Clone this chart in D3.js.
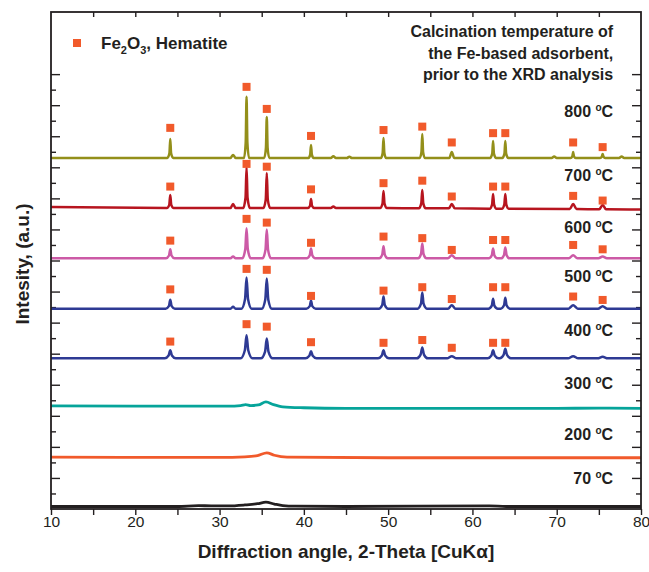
<!DOCTYPE html>
<html>
<head>
<meta charset="utf-8">
<script src="https://cdn.jsdelivr.net/npm/d3@7"></script>
<style>
  body { margin: 0; background: #fff; }
  text { font-family: "Liberation Sans", Arial, sans-serif; fill: #231f20; }
</style>
</head>
<body>
<svg width="649" height="572"></svg>
<script>
// Temperatures (series names), bottom to top
var temps = ["70", "200", "300", "400", "500", "600", "700", "800"];
// vertical offset of each pattern (a.u.)
var offsets = [8, 166, 328, 485, 645, 807, 969, 1130];
var colors = ["#231f20", "#f15a2b", "#06a49a", "#2e3a94", "#2e3a94", "#cc5aa6", "#b7151f", "#938f1a"];

// XRD patterns: [2-theta, intensity above the offset]
var p70 = [[10,0],[25,0],[27.5,3],[29,2],[31,2],[33,5],[34.5,9],[35.5,14],[36.5,8],[37.5,3],[39,1],[45,0],[62,2],[64,0],[80,0]];
var p200 = [[10,1],[30,0],[33,2],[34.5,6],[35.6,15],[36.5,7],[38,1],[50,-1],[80,-1]];
var p300 = [[10,4],[20,3],[27,3],[31,3],[32.5,5],[33.1,8],[33.7,5],[34.6,7],[35.5,17],[36.4,8],[37.5,1],[40,-2],[45,-4],[55,-4],[65,-4],[70,-4],[75,-3],[80,-4]];
var p400 = [[10,0],
  [23.5,0],[23.95,9],[24.15,26],[24.35,9],[24.8,0],
  [32.5,0],[33.0,26],[33.2,74],[33.4,26],[33.9,0],
  [34.9,0],[35.4,22],[35.6,64],[35.8,22],[36.3,0],
  [40.2,0],[40.65,8],[40.85,23],[41.05,8],[41.5,0],
  [48.8,0],[49.25,9],[49.45,26],[49.65,9],[50.1,0],
  [53.4,0],[53.85,12],[54.05,35],[54.25,12],[54.7,0],
  [57.0,0],[57.55,7],[58.1,0],
  [61.8,0],[62.25,9],[62.45,26],[62.65,9],[63.1,0],
  [63.25,0],[63.7,11],[63.9,31],[64.1,11],[64.55,0],
  [71.35,0],[71.95,7],[72.55,0],
  [74.85,0],[75.45,5],[76.05,0],
  [80,0]];
var p500 = [[10,0],
  [23.6,0],[24.0,9],[24.15,29],[24.3,9],[24.7,0],
  [31.3,0],[31.6,6],[31.9,0],
  [32.6,0],[33.02,30],[33.2,100],[33.38,30],[33.8,0],
  [35.0,0],[35.42,29],[35.6,97],[35.78,29],[36.2,0],
  [40.3,0],[40.7,8],[40.85,26],[41.0,8],[41.4,0],
  [48.9,0],[49.3,12],[49.45,39],[49.6,12],[50.0,0],
  [53.5,0],[53.9,16],[54.05,52],[54.2,16],[54.6,0],
  [57.1,0],[57.55,11],[58.0,0],
  [61.9,0],[62.3,10],[62.45,32],[62.6,10],[63.0,0],
  [63.35,0],[63.75,11],[63.9,35],[64.05,11],[64.45,0],
  [71.4,0],[71.95,11],[72.5,0],
  [74.9,0],[75.45,8],[76.0,0],
  [80,0]];
var p600 = [[10,0],
  [23.65,0],[24.0,9],[24.15,29],[24.3,9],[24.65,0],
  [31.3,0],[31.6,6],[31.9,0],
  [32.7,0],[33.05,29],[33.2,97],[33.35,29],[33.7,0],
  [35.1,0],[35.45,28],[35.6,93],[35.75,28],[36.1,0],
  [40.35,0],[40.7,10],[40.85,32],[41.0,10],[41.35,0],
  [48.95,0],[49.3,12],[49.45,39],[49.6,12],[49.95,0],
  [53.55,0],[53.9,14],[54.05,48],[54.2,14],[54.55,0],
  [57.1,0],[57.55,10],[58.0,0],
  [61.95,0],[62.3,10],[62.45,32],[62.6,10],[62.95,0],
  [63.4,0],[63.75,11],[63.9,35],[64.05,11],[64.4,0],
  [71.45,0],[71.95,10],[72.45,0],
  [74.95,0],[75.45,6],[75.95,0],
  [80,0]];
var p700 = [[10,3],
  [23.75,0],[24.03,10],[24.15,42],[24.27,10],[24.55,0],
  [31.3,0],[31.6,13],[31.9,0],
  [32.8,0],[33.08,33],[33.2,130],[33.32,33],[33.6,0],
  [35.2,0],[35.48,28],[35.6,113],[35.72,28],[36.0,0],
  [40.45,0],[40.73,7],[40.85,29],[40.97,7],[41.25,0],
  [43.2,0],[43.5,5],[43.8,0],
  [49.05,0],[49.33,14],[49.45,55],[49.57,14],[49.85,0],
  [53.65,-1],[53.93,15],[54.05,58],[54.17,15],[54.45,-1],
  [57.2,-1],[57.55,13],[57.9,-1],
  [62.05,-2],[62.33,11],[62.45,45],[62.57,11],[62.85,-2],
  [63.5,-2],[63.78,11],[63.9,45],[64.02,11],[64.3,-2],
  [71.55,-3],[71.95,13],[72.35,-3],
  [75.05,-4],[75.45,10],[75.85,-4],
  [80,-5]];
var p800 = [[10,0],
  [23.8,0],[24.05,15],[24.15,61],[24.25,15],[24.5,0],
  [31.3,0],[31.6,10],[31.9,0],
  [32.9,0],[33.1,50],[33.2,197],[33.3,50],[33.5,0],
  [35.3,0],[35.5,33],[35.6,132],[35.7,33],[35.9,0],
  [40.55,0],[40.75,11],[40.85,42],[40.95,11],[41.15,0],
  [43.2,0],[43.5,6],[43.8,0],
  [45.1,0],[45.4,4],[45.7,0],
  [49.15,0],[49.35,16],[49.45,64],[49.55,16],[49.75,0],
  [53.75,0],[53.95,19],[54.05,77],[54.15,19],[54.35,0],
  [57.25,0],[57.55,19],[57.85,0],
  [62.1,0],[62.35,14],[62.45,55],[62.55,14],[62.8,0],
  [63.55,0],[63.8,14],[63.9,55],[64.0,14],[64.25,0],
  [69.4,0],[69.7,5],[70.0,0],
  [71.65,0],[71.85,5],[71.95,19],[72.05,5],[72.25,0],
  [75.15,0],[75.35,4],[75.45,13],[75.55,4],[75.75,0],
  [77.4,0],[77.7,5],[78.0,0],
  [80,0]];
var patterns = [p70, p200, p300, p400, p500, p600, p700, p800];

// Hematite reflections (2-theta) and marker heights (a.u.) per series
var hemPos = [24.15, 33.2, 35.6, 40.85, 49.45, 54.05, 57.55, 62.45, 63.9, 71.95, 75.45];
var mk400 = [539, 595, 587, 537, 535, 544, 519, 535, 535];
var mk500 = [707, 773, 770, 686, 703, 714, 676, 714, 714, 684, 673];
var mk600 = [864, 934, 922, 857, 877, 872, 834, 866, 866, 850, 836];
var mk700 = [1038, 1111, 1102, 1029, 1049, 1057, 1006, 1038, 1038, 1008, 993];
var mk800 = [1227, 1359, 1288, 1201, 1220, 1231, 1180, 1210, 1210, 1180, 1165];
var markerRows = [mk400, mk500, mk600, mk700, mk800];

// Temperature label baselines (a.u.)
var labelY = [80, 222, 385, 557, 732, 890, 1057, 1262];

var xTicks = [10, 20, 30, 40, 50, 60, 70, 80];

var margin = {top: 12, right: 8, bottom: 63, left: 51};
var width = 649 - margin.left - margin.right;
var height = 572 - margin.top - margin.bottom;

var svg = d3.select("svg");
var g = svg.append("g").attr("transform", "translate(" + margin.left + "," + margin.top + ")");

var x = d3.scaleLinear().domain([10, 80]).range([0, width]);
var y = d3.scaleLinear().domain([0, 1600]).range([height, 0]);

var fiveDeg = d3.range(10, 80.1, 5);
var halfTicks = d3.range(50, 1401, 50);
var minorY = halfTicks.filter(v => v % 100 !== 0);
var majorY = halfTicks.filter(v => v % 100 === 0);

function styleAxis(sel) {
    sel.selectAll(".domain").remove();
    sel.selectAll("line").attr("stroke", "#231f20").attr("stroke-width", 1.4);
}

// bottom axis, ticks outward
g.append("g")
    .attr("transform", "translate(0," + height + ")")
    .call(d3.axisBottom(x).tickValues(fiveDeg).tickSize(6).tickSizeOuter(0)
        .tickFormat(d => xTicks.includes(d) ? d : ""))
    .call(styleAxis)
    .call(s => s.selectAll("text").attr("font-size", 15.5).attr("dy", "0.75em").attr("y", 6));

// top axis, ticks inward
g.append("g")
    .call(d3.axisTop(x).tickValues(fiveDeg.slice(1, -1)).tickSize(-5).tickFormat(""))
    .call(styleAxis);

// left and right axes, ticks inward
g.append("g").call(d3.axisLeft(y).tickValues(majorY).tickSize(-9).tickFormat("")).call(styleAxis);
g.append("g").call(d3.axisLeft(y).tickValues(minorY).tickSize(-5).tickFormat("")).call(styleAxis);
g.append("g").attr("transform", "translate(" + width + ",0)")
    .call(d3.axisRight(y).tickValues(majorY).tickSize(-9).tickFormat("")).call(styleAxis);
g.append("g").attr("transform", "translate(" + width + ",0)")
    .call(d3.axisRight(y).tickValues(minorY).tickSize(-5).tickFormat("")).call(styleAxis);

// XRD lines
var line = d3.line().curve(d3.curveMonotoneX);
patterns.forEach(function(pts, i) {
    g.append("path")
        .datum(pts)
        .attr("fill", "none")
        .attr("stroke", colors[i])
        .attr("stroke-width", i < 3 ? 2.8 : 2.5)
        .attr("stroke-linejoin", "round")
        .attr("d", line.x(d => x(d[0])).y(d => y(d[1] + offsets[i])));
});

// hematite markers
markerRows.forEach(function(row) {
    g.selectAll(null)
        .data(row)
        .enter().append("rect")
        .attr("x", (d, j) => x(hemPos[j]) - 4)
        .attr("y", d => y(d) - 4)
        .attr("width", 8)
        .attr("height", 8)
        .attr("fill", "#f15a2b");
});

// frame
g.append("rect")
    .attr("width", width).attr("height", height)
    .attr("fill", "none").attr("stroke", "#231f20").attr("stroke-width", 1.8);

// temperature labels
temps.forEach(function(t, i) {
    var txt = g.append("text")
        .attr("x", x(76.7))
        .attr("y", y(labelY[i]))
        .attr("text-anchor", "end")
        .attr("font-size", 16)
        .attr("font-weight", "bold");
    txt.append("tspan").text(t + " ");
    txt.append("tspan").attr("font-size", 10).attr("dy", -6).text("o");
    txt.append("tspan").attr("dy", 6).text("C");
});

// calcination note
var note = ["Calcination temperature of", "the Fe-based adsorbent,", "prior to the XRD analysis"];
note.forEach(function(s, i) {
    g.append("text")
        .attr("x", x(76.7))
        .attr("y", 25 + i * 21.7)
        .attr("text-anchor", "end")
        .attr("font-size", 16)
        .attr("font-weight", "bold")
        .text(s);
});

// legend
g.append("rect").attr("x", 22).attr("y", 27).attr("width", 8).attr("height", 8).attr("fill", "#f15a2b");
var leg = g.append("text").attr("x", 50).attr("y", 36.5).attr("font-size", 17).attr("font-weight", "bold");
leg.append("tspan").text("Fe");
leg.append("tspan").attr("font-size", 11).attr("dy", 5).text("2");
leg.append("tspan").attr("dy", -5).text("O");
leg.append("tspan").attr("font-size", 11).attr("dy", 5).text("3");
leg.append("tspan").attr("dy", -5).text(", Hematite");

// axis titles
svg.append("text")
    .attr("x", margin.left + width / 2)
    .attr("y", 558)
    .attr("text-anchor", "middle")
    .attr("font-size", 19)
    .attr("font-weight", "bold")
    .text("Diffraction angle, 2-Theta [CuK\u03b1]");

svg.append("text")
    .attr("transform", "translate(29,264) rotate(-90)")
    .attr("text-anchor", "middle")
    .attr("font-size", 19)
    .attr("font-weight", "bold")
    .text("Intesity, (a.u.)");
</script>
</body>
</html>
